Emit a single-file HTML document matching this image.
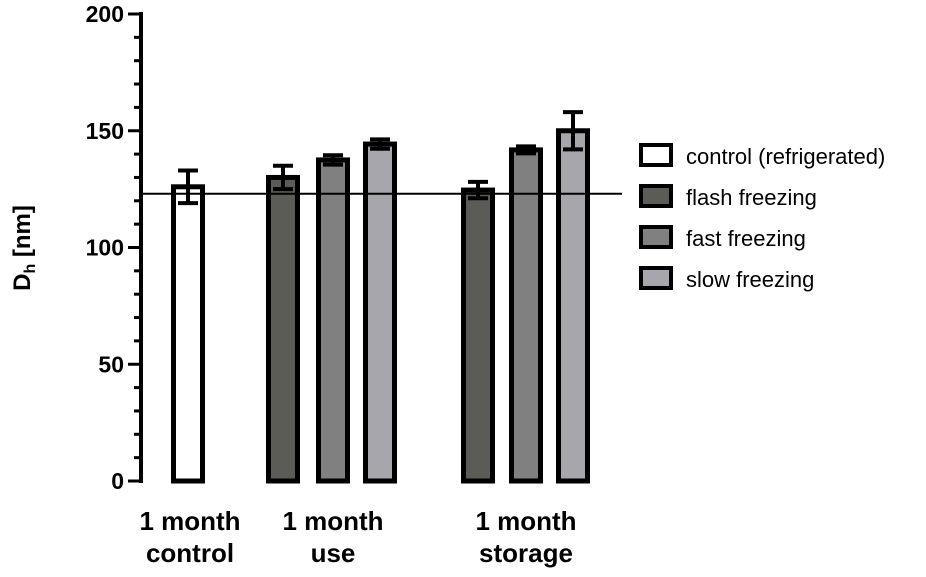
<!DOCTYPE html>
<html><head><style>body{margin:0;background:#fff}text{font-family:"Liberation Sans",sans-serif;font-weight:bold}</style></head>
<body>
<svg width="926" height="572" xmlns="http://www.w3.org/2000/svg">
<g id="ax"></g><g id="bars"></g>
<text transform="translate(30,248) rotate(-90)" text-anchor="middle" font-size="24">D<tspan font-size="16" dy="5">h</tspan><tspan dy="-5"> [nm]</tspan></text>
<g id="legend"></g>
</svg>
<script>
const categories=["control","use flash","use fast","use slow","storage flash","storage fast","storage slow"];
const values=[126,130,137.5,144.3,124.6,141.8,150];
const errors=[7,5,2,2,3.5,1.5,8];
const seriesIdx=[0,1,2,3,1,2,3];
const yTicks=[0,50,100,150,200];
const refValue=123;
const seriesNames=["control (refrigerated)","flash freezing","fast freezing","slow freezing"];
const groupLabels=[["1 month","control"],["1 month","use"],["1 month","storage"]];
const fills=["#ffffff","#5a5c55","#808080","#a6a6ac"];
const barX=[188,283,333,380,478,526,573];
const groupX=[190,333,526];
const NS="http://www.w3.org/2000/svg";
function y(v){return 481-v*2.335;}
function mk(p,tag,a){const e=document.createElementNS(NS,tag);for(const k in a)e.setAttribute(k,a[k]);p.appendChild(e);return e;}
const ax=document.getElementById('ax'),bars=document.getElementById('bars'),lg=document.getElementById('legend');
let l=mk(ax,'line',{x1:141,x2:141,y1:y(200)-2,y2:y(0)+2,stroke:'#000','stroke-width':4});

for(let v=0;v<=200;v+=10){let t=mk(ax,'line',{x1:v%50?134:128,x2:141,y1:y(v),y2:y(v),stroke:'#000','stroke-width':3});}
yTicks.forEach(v=>{let t=mk(ax,'text',{x:124,y:y(v)+8,'text-anchor':'end','font-size':23});t.textContent=v;});
values.forEach((v,i)=>{const cx=barX[i];
let r=mk(bars,'rect',{x:cx-14.5,y:y(v),width:29,height:y(0)-y(v),fill:fills[seriesIdx[i]],stroke:'#000','stroke-width':5});

const g=mk(bars,'g',{stroke:'#000','stroke-width':4});
mk(g,'line',{x1:cx,x2:cx,y1:y(v+errors[i]),y2:y(v-errors[i])});
mk(g,'line',{x1:cx-10,x2:cx+10,y1:y(v+errors[i]),y2:y(v+errors[i])});
mk(g,'line',{x1:cx-10,x2:cx+10,y1:y(v-errors[i]),y2:y(v-errors[i])});});
let rl=mk(bars,'line',{x1:141,x2:622,y1:y(refValue),y2:y(refValue),stroke:'#000','stroke-width':2});

groupLabels.forEach((g,i)=>{g.forEach((s,j)=>{let t=mk(ax,'text',{x:groupX[i],y:530+j*32,'text-anchor':'middle','font-size':26});t.textContent=s;});});
seriesNames.forEach((s,i)=>{const yy=145+i*41;
let r=mk(lg,'rect',{x:641,y:yy,width:30,height:20,fill:fills[i],stroke:'#000','stroke-width':4});
let t=mk(lg,'text',{x:686,y:yy+19,'font-size':22,style:'font-weight:normal'});t.textContent=s;});
</script>
</body></html>
